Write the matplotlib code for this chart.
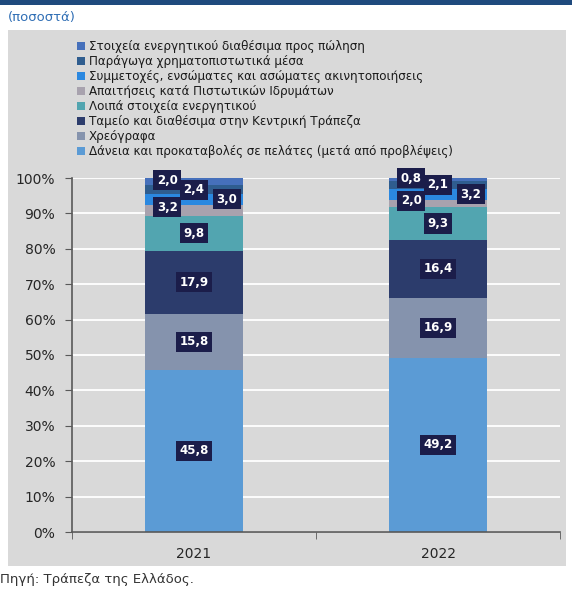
import numpy as np
import matplotlib.pyplot as plt
from matplotlib.patches import Rectangle

years = ['2021', '2022']

# asset categories, bottom of the stack first
names = [
    'Δάνεια και προκαταβολές σε πελάτες (μετά από προβλέψεις)',
    'Χρεόγραφα',
    'Ταμείο και διαθέσιμα στην Κεντρική Τράπεζα',
    'Λοιπά στοιχεία ενεργητικού',
    'Απαιτήσεις κατά Πιστωτικών Ιδρυμάτων',
    'Συμμετοχές, ενσώματες και ασώματες ακινητοποιήσεις',
    'Παράγωγα χρηματοπιστωτικά μέσα',
    'Στοιχεία ενεργητικού διαθέσιμα προς πώληση',
]
loans = [45.8, 49.2]
securities = [15.8, 16.9]
cash_cb = [17.9, 16.4]
other_assets = [9.8, 9.3]
claims_ci = [3.2, 2.0]
holdings = [3.0, 3.2]
derivatives = [2.4, 2.1]
held_for_sale = [2.0, 0.8]
values = [loans, securities, cash_cb, other_assets, claims_ci,
          holdings, derivatives, held_for_sale]

colors = ['#5b9bd5', '#8593ad', '#2c3c6c', '#52a5b0',
          '#a8a2ae', '#2b88e0', '#2f5d8f', '#4670bb']
# small shifts so the labels of the thin top slices don't overlap
lab_dx = [0, 0, 0, 0, -0.11, 0.135, 0, -0.11]
lab_dy = [0, 0, 0, 0, 0.8, 0, 0, 0.5]

fig = plt.figure(figsize=(5.72, 5.91), dpi=100)

# grey chart area and the strip of the header bar
fig.patches.append(Rectangle((8 / 572, 25 / 591), 558 / 572, 536 / 591,
                             transform=fig.transFigure, facecolor='#d9d9d9',
                             edgecolor='none', zorder=-2))
fig.patches.append(Rectangle((0, 1 - 5 / 591), 1, 5 / 591,
                             transform=fig.transFigure, facecolor='#1f4a7d',
                             edgecolor='none', zorder=-2))

fig.text(8 / 572, 1 - 18 / 591, '(ποσοστά)', color='#2f6eb5', fontsize=9.5,
         va='center', ha='left')
fig.text(0, 1 - 580 / 591, 'Πηγή: Τράπεζα της Ελλάδος.', color='#333333',
         fontsize=9.5, va='center', ha='left')

ax = fig.add_axes([72 / 572, 59 / 591, 488 / 572, 354 / 591])
ax.patch.set_alpha(0)

x = np.arange(len(years))
bottom = np.zeros(len(years))
handles = []
for i, (name, vals, c) in enumerate(zip(names, values, colors)):
    vals = np.array(vals)
    b = ax.bar(x, vals, width=0.4, bottom=bottom, color=c, label=name, zorder=2)
    handles.append(b)
    for xi, v, b0 in zip(x, vals, bottom):
        ax.text(xi + lab_dx[i], b0 + v / 2 + lab_dy[i], ('%.1f' % v).replace('.', ','),
                ha='center', va='center', color='white', fontsize=8.5,
                fontweight='bold', zorder=5,
                bbox=dict(boxstyle='square,pad=0.3', facecolor='#1b1d4a',
                          edgecolor='none'))
    bottom += vals

ax.set_xlim(-0.5, 1.5)
ax.set_ylim(0, 100)
ax.set_yticks(np.arange(0, 101, 10))
ax.set_yticklabels(['%d%%' % t for t in range(0, 101, 10)])
ax.set_xticks(x)
ax.set_xticklabels(years)
ax.set_xticks([-0.5, 0.5, 1.5], minor=True)
ax.tick_params(axis='x', which='major', length=0, pad=11, labelsize=10,
               labelcolor='#262626')
ax.tick_params(axis='x', which='minor', length=5, color='#595959')
ax.tick_params(axis='y', length=5, color='#595959', labelsize=10,
               labelcolor='#262626', pad=7)
ax.yaxis.grid(True, color='white', lw=1.3)
ax.set_axisbelow(True)
for s in ['top', 'right']:
    ax.spines[s].set_visible(False)
for s in ['left', 'bottom']:
    ax.spines[s].set_color('#595959')
    ax.spines[s].set_linewidth(1.2)

fig.legend(handles[::-1], names[::-1], loc='upper left',
           bbox_to_anchor=(77 / 572, 1 - 40 / 591), frameon=False,
           fontsize=8.6, handlelength=0.65, handleheight=0.65,
           handletextpad=0.35, labelspacing=0.17, borderpad=0,
           borderaxespad=0, labelcolor='#1a1a1a')

fig.savefig('out.png', dpi=100)
